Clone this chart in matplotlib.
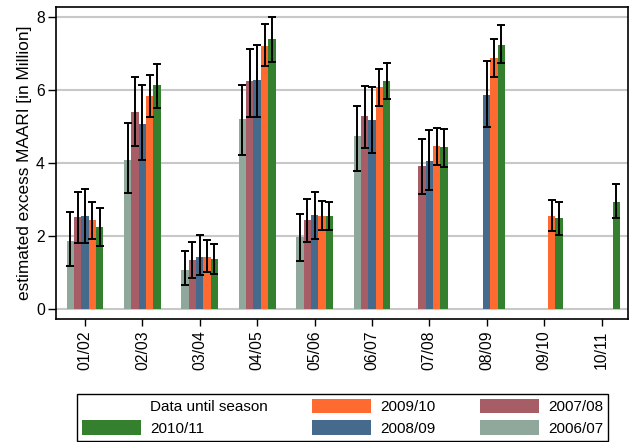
import numpy as np
import matplotlib
matplotlib.use("Agg")
import matplotlib.pyplot as plt
from matplotlib.patches import Patch

nan = np.nan

seasons = ["01/02", "02/03", "03/04", "04/05", "05/06",
           "06/07", "07/08", "08/09", "09/10", "10/11"]

# estimate per season, one list per "data until season" series
est_0607 = [1.88, 4.10, 1.08, 5.21, 1.98, 4.76, nan, nan, nan, nan]
lo_0607 = [1.19, 3.18, 0.67, 4.22, 1.32, 3.80, nan, nan, nan, nan]
hi_0607 = [2.67, 5.10, 1.61, 6.15, 2.60, 5.56, nan, nan, nan, nan]

est_0708 = [2.52, 5.41, 1.34, 6.25, 2.44, 5.30, 3.93, nan, nan, nan]
lo_0708 = [1.82, 4.47, 0.87, 5.27, 1.84, 4.42, 3.16, nan, nan, nan]
hi_0708 = [3.21, 6.36, 1.84, 7.14, 3.03, 6.12, 4.68, nan, nan, nan]

est_0809 = [2.56, 5.09, 1.44, 6.28, 2.59, 5.18, 4.07, 5.87, nan, nan]
lo_0809 = [1.82, 4.09, 0.94, 5.28, 1.92, 4.27, 3.27, 4.99, nan, nan]
hi_0809 = [3.30, 6.14, 2.04, 7.25, 3.21, 6.08, 4.92, 6.81, nan, nan]

est_0910 = [2.45, 5.84, 1.44, 7.22, 2.56, 6.08, 4.47, 6.89, 2.56, nan]
lo_0910 = [1.93, 5.28, 1.02, 6.66, 2.17, 5.57, 3.96, 6.36, 2.14, nan]
hi_0910 = [2.95, 6.43, 1.91, 7.82, 2.98, 6.59, 4.97, 7.41, 2.99, nan]

est_1011 = [2.25, 6.16, 1.37, 7.41, 2.56, 6.26, 4.45, 7.24, 2.50, 2.95]
lo_1011 = [1.73, 5.51, 0.96, 6.78, 2.17, 5.76, 3.90, 6.75, 2.04, 2.49]
hi_1011 = [2.78, 6.72, 1.78, 8.02, 2.95, 6.76, 4.94, 7.78, 2.94, 3.44]

series_labels = ["2006/07", "2007/08", "2008/09", "2009/10", "2010/11"]
colors = ["#8fa89b", "#a65d65", "#466a8c", "#ff6a30", "#35802f"]


def main():
    plt.rcParams["font.family"] = ["Liberation Sans", "DejaVu Sans"]
    plt.rcParams["font.size"] = 11

    est = [est_0607, est_0708, est_0809, est_0910, est_1011]
    lo = [lo_0607, lo_0708, lo_0809, lo_0910, lo_1011]
    hi = [hi_0607, hi_0708, hi_0809, hi_0910, hi_1011]

    fig = plt.figure(figsize=(6.32, 4.42), dpi=100)
    ax = fig.add_axes([0.0886, 0.2776, 0.905, 0.707])

    x = np.arange(len(seasons))
    w = 0.128
    handles = {}
    for k, lab in enumerate(series_labels):
        v = np.array(est[k])
        l = np.array(lo[k])
        h = np.array(hi[k])
        pos = x + (k - 2) * w
        bars = ax.bar(pos, v, w, color=colors[k], zorder=2)
        handles[lab] = bars
        ax.errorbar(pos, v, yerr=[v - l, h - v], fmt="none", ecolor="black",
                    elinewidth=1.4, capsize=3, capthick=1.4, zorder=3)

    ax.set_xlim(-0.505, 9.46)
    ax.set_ylim(-0.274, 8.29)
    ax.set_yticks([0, 2, 4, 6, 8])
    ax.set_xticks(x)
    ax.set_xticklabels(seasons, rotation=90)
    ax.yaxis.grid(True, color="#c8c8c8", linewidth=1.5, zorder=0)
    ax.set_axisbelow(True)
    ax.tick_params(axis="y", length=6, width=1, pad=2, labelsize=11.3)
    ax.tick_params(axis="x", length=5, width=1, pad=3, labelsize=11.3)
    for s in ax.spines.values():
        s.set_linewidth(1.2)
    ax.set_ylabel("estimated excess MAARI [in Million]", fontsize=12.4,
                  labelpad=3)

    blank = Patch(facecolor="none", edgecolor="none")
    leg_handles = [blank, handles["2010/11"], handles["2009/10"],
                   handles["2008/09"], handles["2007/08"], handles["2006/07"]]
    leg_labels = ["Data until season", "2010/11", "2009/10",
                  "2008/09", "2007/08", "2006/07"]
    leg = fig.legend(leg_handles, leg_labels, ncol=3, loc="lower left",
                     bbox_to_anchor=(77 / 632, 1.5 / 442, (608 - 77) / 632, 0.1),
                     mode="expand", fancybox=False, framealpha=1,
                     edgecolor="black", handlelength=3.9, handleheight=1.1,
                     handletextpad=0.6, columnspacing=1.8, borderpad=0.3,
                     labelspacing=0.4, borderaxespad=0)
    leg.get_frame().set_linewidth(1.0)

    fig.savefig("out.png", dpi=100)
    plt.close(fig)
    return 0


if __name__ == "__main__":
    exit(main())
